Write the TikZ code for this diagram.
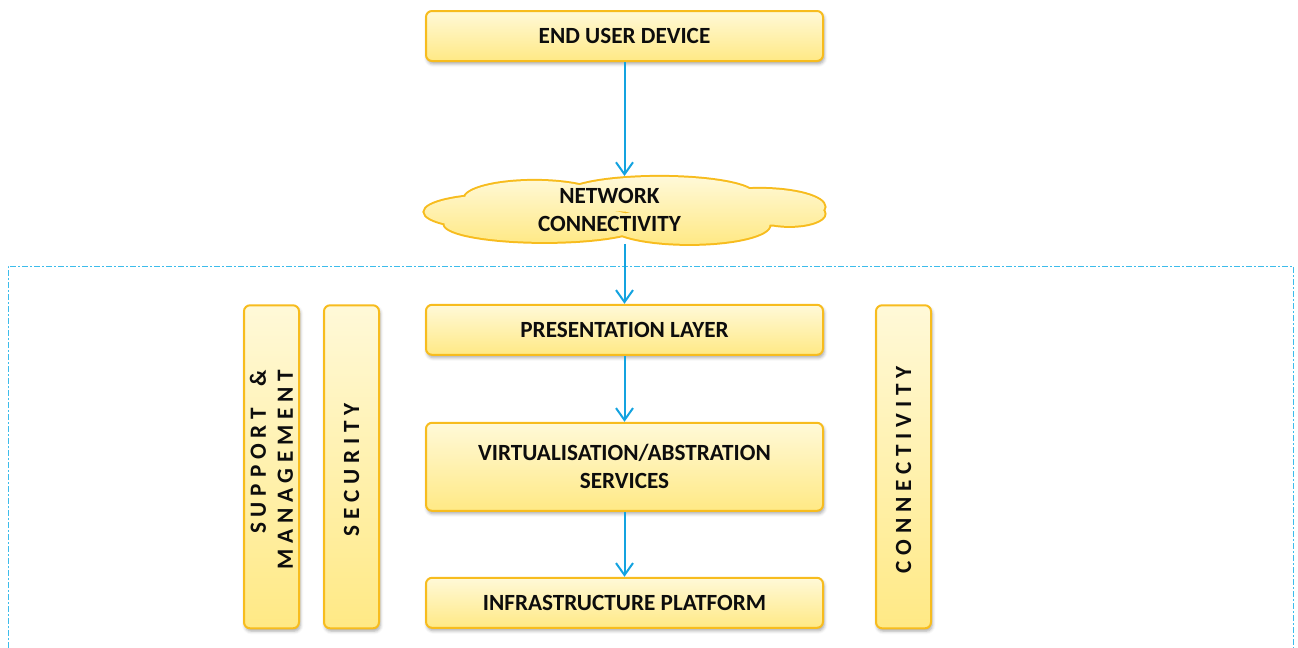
\documentclass[tikz,border=0pt]{standalone}
\usepackage{fontspec}
\setmainfont{Carlito}
\usepackage{tikz}
\usetikzlibrary{arrows.meta,positioning,shadows.blur}
\definecolor{layerink}{HTML}{0D0D0D}
\definecolor{layeredge}{HTML}{F7BC1E}
\definecolor{layertop}{HTML}{FFF9D8}
\definecolor{layerbottom}{HTML}{FFE985}
\definecolor{flowblue}{HTML}{14A3E0}
\definecolor{framecyan}{HTML}{3DBCEB}
% puffs of the network cloud, relative to its centre
\newcommand{\cloudpuffs}{%
  (-62.5,-1) ellipse (37.5 and 8.5)
  (-45,5.5) ellipse (35 and 9)
  (17.5,7.5) ellipse (47.5 and 9)
  (67.5,1.5) ellipse (32.5 and 9)
  (-40,-7) ellipse (50 and 9)
  (32.5,-7.5) ellipse (40 and 9.5)
  (82.5,-2) ellipse (17.5 and 6)}

\begin{document}
\begin{tikzpicture}[
  x=1pt,y=1pt,
  node distance=30pt,
  layer/.style={draw=layeredge,line width=1pt,rounded corners=3pt,
    top color=layertop,bottom color=layerbottom,
    blur shadow={shadow xshift=0.6pt,shadow yshift=-1.4pt,shadow blur radius=1.6pt,shadow opacity=35},
    minimum width=198.5pt,minimum height=25pt,align=center,inner sep=0pt,
    font=\fontsize{11.6}{14}\selectfont\bfseries,text=layerink},
  pillar/.style={layer,minimum width=27.5pt,minimum height=161.5pt},
  pillartext/.style={rotate=90,align=right,inner sep=0pt,text=layerink,
    font=\fontsize{11.6}{13.5}\selectfont\bfseries\addfontfeature{LetterSpace=25}},
  netarea/.style={minimum width=200pt,minimum height=33.5pt,inner sep=0pt},
  arrow/.style={-{Straight Barb[length=6pt,width=8.5pt]},draw=flowblue,line width=1pt},
  frame/.style={draw=framecyan,line width=0.5pt,dash pattern=on 3pt off 1pt on 1pt off 1pt}
]
\useasboundingbox (0,0) rectangle (649,-324);

\draw[frame] (4,-324) |- (646.5,-133) -- (646.5,-324);

\node[layer] (device) at (312.25,-18) {END USER DEVICE};
\node[netarea,below=57pt of device] (net) {};
\begin{scope}[shift={(net.center)}]
  \draw[layeredge,line width=2pt] \cloudpuffs;
  \shade[top color=layertop,bottom color=layerbottom] \cloudpuffs;
\end{scope}
\node[align=center,inner sep=0pt,font=\fontsize{11.6}{14}\selectfont\bfseries,text=layerink]
  (nettext) at ([xshift=-7.5pt]net.center) {NETWORK\\CONNECTIVITY};
\node[layer,below=30pt of net] (pres) {PRESENTATION LAYER};
\node[layer,below=33pt of pres,minimum height=44pt] (virt) {VIRTUALISATION/ABSTRATION\\SERVICES};
\node[layer,below=32.5pt of virt] (infra) {INFRASTRUCTURE PLATFORM};

\node[pillar,left=22.5pt of virt] (sec) {};
\node[pillar,left=11.5pt of sec] (supp) {};
\node[pillar,right=25.5pt of virt] (conn) {};
\node[pillartext] (supptext) at ([yshift=-1.5pt]supp.center) {SUPPORT \ \&\\MANAGEMENT};
\node[pillartext] (sectext) at ([yshift=-1.5pt]sec.center) {SECURITY};
\node[pillartext] (conntext) at ([yshift=-1.5pt]conn.center) {CONNECTIVITY};

\draw[arrow] (device) -- (net);
\draw[arrow] (net) -- (pres);
\draw[arrow] (pres) -- (virt);
\draw[arrow] (virt) -- (infra);
\end{tikzpicture}
\end{document}
